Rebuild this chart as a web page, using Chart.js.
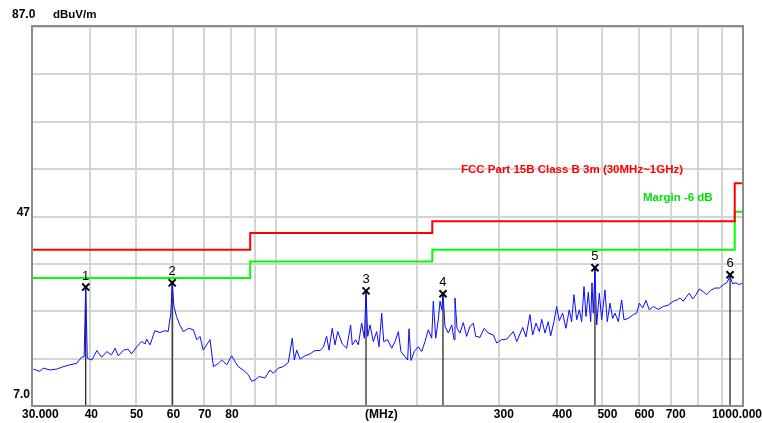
<!DOCTYPE html>
<html>
<head>
<meta charset="utf-8">
<script src="https://cdn.jsdelivr.net/npm/chart.js@4.4.0/dist/chart.umd.min.js"></script>
<style>
  html, body { margin: 0; padding: 0; background: #fff; }
  #wrap { position: relative; width: 762px; height: 423px; }
</style>
</head>
<body>
<div id="wrap"><canvas id="emc-chart"></canvas></div>
<script>
// Radiated emission scan, 30MHz - 1GHz

// axis ticks
var xGrid = [30, 40, 50, 60, 70, 80, 90, 100, 200, 300, 400, 500, 600, 700, 800, 900, 1000];
var xLabelValues = [30, 40, 50, 60, 70, 80, 164, 300, 400, 500, 600, 700, 1000];
var xLabels = ['30.000', '40', '50', '60', '70', '80', '(MHz)', '300', '400', '500', '600', '700', '1000.000'];
var yGrid = [7, 17, 27, 37, 47, 57, 67, 77, 87];
var yLabelValues = [87, 47, 7];
var yLabels = ['87.0', '47', '7.0'];

// limit lines
var limitFreq = [30, 88, 216, 960, 1000];
var limitLevel = [40, 43.5, 46, 54, 54];
var marginLevel = [34, 37.5, 40, 48, 48];

// measured trace (MHz, dBuV/m)
var traceFreq = [
  30.2, 31.2, 31.7, 32.8, 33.9, 35.0, 36.2, 37.4, 38.3, 38.8, 39.1, 39.4, 40.3, 41.3, 42.3, 43.4,
  44.4, 45.2, 45.9, 47.1, 48.2, 49.0, 50.3, 51.5, 52.4, 52.8, 53.7, 55.0, 56.4, 57.8, 58.7, 59.5,
  59.9, 60.4, 61.2, 62.2, 63.3, 64.9, 66.5, 67.6, 68.7, 69.8, 71.0, 72.2, 73.4, 75.2, 76.5, 78.4,
  80.3, 81.6, 83.0, 85.0, 87.2, 88.7, 90.1, 91.6, 92.3, 94.6, 97.0, 98.6, 101.1, 103.6, 106.2, 108.3,
  109.4, 110.7, 112.5, 115.3, 118.2, 121.1, 124.1, 126.2, 128.3, 129.8, 131.9, 133.7, 135.5, 138.6, 141.6, 144.4,
  145.6, 148.0, 150.0, 152.5, 154.5, 155.8, 157.1, 158.9, 161.5, 164.2, 166.1, 168.3, 170.0, 173.3, 176.8, 179.7,
  182.7, 185.1, 188.8, 191.3, 192.6, 194.5, 197.6, 201.6, 205.0, 208.4, 211.8, 215.4, 217.1, 219.7, 222.5, 224.4,
  226.3, 227.7, 230.0, 233.8, 237.8, 240.5, 241.6, 244.0, 247.6, 251.7, 255.9, 260.1, 264.4, 267.6, 273.3, 279.1,
  284.7, 291.8, 296.8, 304.2, 311.8, 322.2, 327.7, 337.4, 342.9, 349.7, 354.4, 360.3, 366.3, 370.6, 376.6, 382.8,
  387.3, 393.6, 398.9, 404.1, 410.9, 417.6, 424.5, 429.5, 434.4, 440.3, 446.1, 451.3, 456.5, 461.0, 466.3, 471.8,
  474.8, 477.9, 481.8, 486.0, 492.3, 498.1, 506.2, 512.0, 519.0, 525.8, 531.9, 540.7, 549.7, 556.0, 567.9, 582.3,
  592.0, 599.7, 609.7, 619.6, 629.8, 642.3, 658.3, 674.9, 691.8, 709.0, 723.3, 733.1, 744.9, 757.4, 767.3, 780.3,
  793.1, 806.2, 819.9, 836.1, 852.7, 870.9, 889.7, 907.3, 922.7, 938.1, 950.3, 965.8, 981.6, 998.4
];
var traceLevel = [
  14.8, 14.3, 15.0, 14.6, 14.8, 15.3, 15.7, 16.0, 17.3, 17.4, 32.1, 17.1, 16.7, 18.7, 17.3, 18.5,
  17.8, 19.2, 17.6, 18.8, 19.0, 18.0, 19.5, 20.6, 20.1, 21.1, 19.9, 22.9, 22.5, 22.9, 22.7, 26.6,
  33.0, 28.0, 25.9, 24.1, 22.7, 23.4, 23.1, 21.0, 21.7, 18.8, 19.9, 21.0, 15.3, 16.0, 16.7, 15.7,
  17.6, 16.4, 15.3, 14.6, 13.6, 12.2, 12.5, 13.1, 13.2, 12.9, 14.6, 13.9, 15.0, 15.3, 16.2, 21.3,
  16.7, 18.8, 16.9, 17.6, 18.0, 18.7, 18.7, 19.4, 21.7, 18.8, 23.4, 19.9, 22.7, 20.1, 19.2, 24.1,
  19.9, 21.0, 19.9, 24.5, 21.3, 31.3, 21.7, 24.1, 20.6, 22.7, 19.5, 26.6, 20.6, 21.0, 19.2, 20.6,
  22.7, 18.5, 17.4, 16.7, 23.3, 16.6, 18.5, 19.5, 18.5, 20.6, 23.1, 21.3, 29.1, 21.3, 25.2, 29.1,
  27.3, 30.7, 23.8, 22.4, 24.1, 21.0, 29.8, 23.4, 22.4, 24.6, 21.7, 23.8, 24.5, 21.7, 21.5, 23.4,
  22.4, 22.0, 20.3, 21.0, 21.1, 22.7, 20.6, 23.6, 21.6, 26.3, 22.0, 24.5, 22.7, 25.3, 22.4, 24.8,
  21.8, 24.8, 28.0, 25.0, 26.6, 23.4, 27.3, 24.8, 30.5, 25.2, 27.3, 24.8, 32.2, 25.9, 31.0, 24.8,
  33.0, 26.6, 36.0, 24.1, 30.8, 25.2, 31.5, 24.8, 28.7, 25.5, 26.6, 24.8, 29.4, 25.2, 25.5, 26.3,
  26.6, 28.7, 27.7, 29.3, 27.3, 28.0, 27.4, 28.0, 28.3, 29.1, 29.4, 29.8, 29.1, 30.1, 30.8, 29.6,
  30.5, 31.7, 31.2, 30.5, 31.4, 31.9, 31.9, 32.6, 33.0, 34.3, 32.8, 33.0, 32.6, 33.0
];

// peak markers
var markerFreq = [39.1, 59.9, 155.8, 227.7, 481.8, 938.1];
var markerLevel = [32.1, 33.0, 31.3, 30.7, 36.2, 34.7];
var markerLabels = ['1', '2', '3', '4', '5', '6'];

function toPoints(xs, ys) {
    return xs.map(function(x, i) { return { x: x, y: ys[i] }; });
}

// vertical lines from each marker down to the floor
var stemPoints = [];
markerFreq.forEach(function(f, i) {
    stemPoints.push({ x: f, y: markerLevel[i] });
    stemPoints.push({ x: f, y: yGrid[0] });
    stemPoints.push({ x: f, y: null });
});

var FONT = '"Liberation Sans", Arial, sans-serif';

var labelPlugin = {
    id: 'emcLabels',
    afterDraw: function(chart) {
        var ctx = chart.ctx;
        var xs = chart.scales.x, ys = chart.scales.y, a = chart.chartArea;
        ctx.save();

        // plot frame
        ctx.strokeStyle = '#8c8c8c';
        ctx.lineWidth = 2;
        ctx.strokeRect(a.left, a.top - 1, a.right - a.left, a.bottom - a.top + 1);

        ctx.fillStyle = '#000';
        ctx.textBaseline = 'middle';

        // y labels
        ctx.font = 'bold 12px ' + FONT;
        var yOff = { 87: -12, 47: -4, 7: -11 };
        yLabelValues.forEach(function(v, i) {
            var py = ys.getPixelForValue(v) + yOff[v];
            if (v === 87) {
                ctx.textAlign = 'left';
                ctx.fillText(yLabels[i], 12, py);
            } else {
                ctx.textAlign = 'right';
                ctx.fillText(yLabels[i], 30, py);
            }
        });
        ctx.textAlign = 'left';
        ctx.font = 'bold 11.5px ' + FONT;
        ctx.fillText('dBuV/m', 53, ys.getPixelForValue(87) - 12);

        // x labels
        ctx.font = 'bold 12px ' + FONT;
        xLabelValues.forEach(function(v, i) {
            var px = xs.getPixelForValue(v);
            var py = a.bottom + 9;
            if (i === 0) {
                ctx.textAlign = 'left';
                ctx.fillText(xLabels[i], 22, py);
            } else if (i === xLabelValues.length - 1) {
                ctx.textAlign = 'right';
                ctx.fillText(xLabels[i], 762, py);
            } else {
                ctx.textAlign = 'center';
                ctx.fillText(xLabels[i], px + (v > 100 ? 5 : 1), py);
            }
        });

        // limit captions
        ctx.textAlign = 'left';
        ctx.font = 'bold 11.5px ' + FONT;
        ctx.fillStyle = '#ff0000';
        ctx.fillText('FCC Part 15B Class B 3m (30MHz~1GHz)', 461, 170);
        ctx.fillStyle = '#00e000';
        ctx.fillText('Margin -6 dB', 643, 198);

        // marker numbers
        ctx.fillStyle = '#000';
        ctx.textAlign = 'center';
        ctx.font = '13px ' + FONT;
        var meta = chart.getDatasetMeta(0);
        meta.data.forEach(function(pt, i) {
            ctx.fillText(markerLabels[i], pt.x, pt.y - 11);
        });
        ctx.restore();
    }
};

var ctx = document.getElementById('emc-chart').getContext('2d');
new Chart(ctx, {
    type: 'scatter',
    data: {
        datasets: [{
            label: 'Markers',
            data: toPoints(markerFreq, markerLevel),
            pointStyle: 'crossRot',
            pointRadius: 5,
            pointBorderWidth: 2,
            borderColor: '#000',
            backgroundColor: '#000',
            showLine: false,
            order: 0
        }, {
            label: 'Stems',
            data: stemPoints,
            showLine: true,
            spanGaps: false,
            borderColor: '#1a1a1a',
            borderWidth: 1.2,
            pointRadius: 0,
            order: 2
        }, {
            label: 'Trace',
            data: toPoints(traceFreq, traceLevel),
            showLine: true,
            borderColor: '#0a0aff',
            borderWidth: 1,
            pointRadius: 0,
            tension: 0,
            order: 1
        }, {
            label: 'Limit',
            data: toPoints(limitFreq, limitLevel),
            showLine: true,
            stepped: 'before',
            borderColor: '#ff0000',
            borderWidth: 2,
            pointRadius: 0,
            order: 3
        }, {
            label: 'Margin',
            data: toPoints(limitFreq, marginLevel),
            showLine: true,
            stepped: 'before',
            borderColor: '#00ff00',
            borderWidth: 2,
            pointRadius: 0,
            order: 3
        }]
    },
    options: {
        responsive: true,
        maintainAspectRatio: false,
        animation: false,
        layout: { padding: { left: 32, top: 27, right: 19, bottom: 17 } },
        plugins: {
            legend: { display: false },
            tooltip: { enabled: false }
        },
        scales: {
            x: {
                type: 'logarithmic',
                min: 30,
                max: 1000,
                afterBuildTicks: function(scale) {
                    scale.ticks = xGrid.map(function(v) { return { value: v }; });
                },
                ticks: { display: false },
                grid: { color: '#d4d4d4', lineWidth: 2, drawTicks: false },
                border: { color: '#8c8c8c', width: 2 }
            },
            y: {
                min: 7,
                max: 87,
                afterBuildTicks: function(scale) {
                    scale.ticks = yGrid.map(function(v) { return { value: v }; });
                },
                ticks: { display: false },
                grid: { color: '#d4d4d4', lineWidth: 2, drawTicks: false },
                border: { color: '#8c8c8c', width: 2 }
            }
        }
    },
    plugins: [labelPlugin]
});
</script>
</body>
</html>
